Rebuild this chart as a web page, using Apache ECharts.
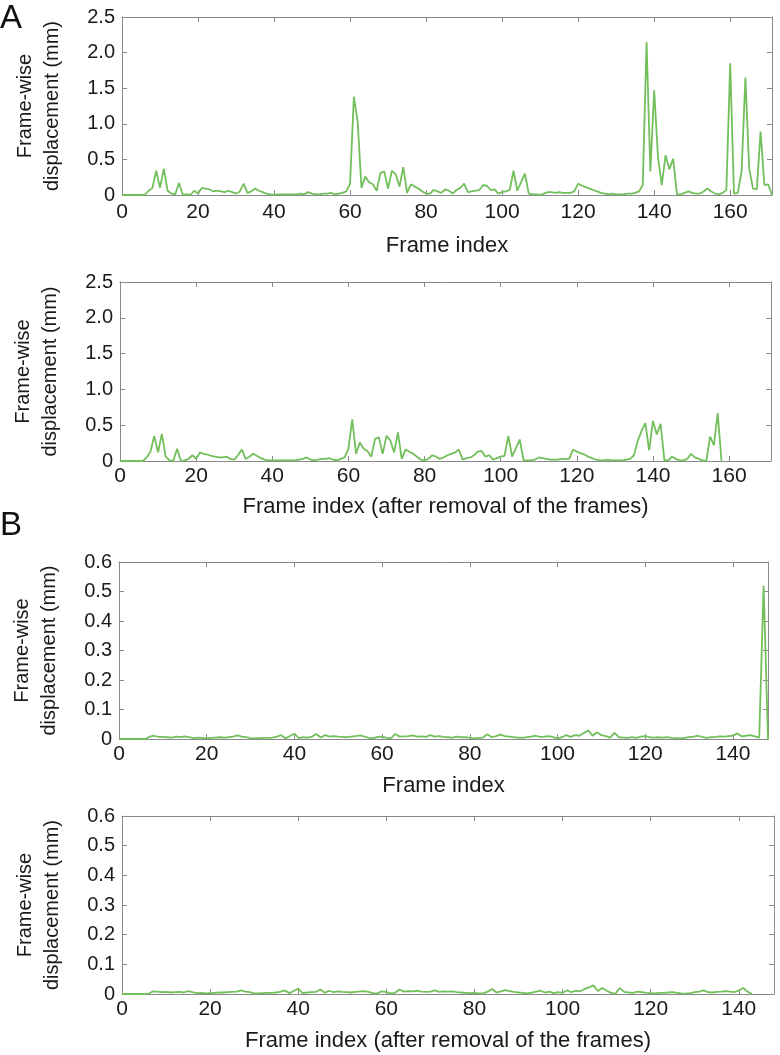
<!DOCTYPE html>
<html>
<head>
	<meta charset="utf-8">
	<title>Frame-wise displacement</title>
	<style>
		body { margin: 0; background: #fff; }
		#box { width: 780px; height: 1055px; }
	</style>
</head>
<body>
	<div id="box"></div>
	<script src="https://cdn.jsdelivr.net/npm/echarts@6.0.0/dist/echarts.min.js"></script>
	<script>
	// frame-wise displacement (mm), one value per frame, frame index = array position
	var fdA1 = [0, 0, 0, 0, 0, 0, 0, 0.06, 0.1, 0.34, 0.1, 0.37, 0.06, 0.02, 0.01, 0.17, 0, 0.01, 0, 0.06,
		0.02, 0.1, 0.09, 0.08, 0.05, 0.06, 0.05, 0.04, 0.06, 0.04, 0.02, 0.05, 0.16, 0.03, 0.05, 0.09, 0.06, 0.04, 0.02, 0.01,
		0, 0.01, 0.01, 0.01, 0.01, 0.01, 0.01, 0.02, 0.01, 0.04, 0.02, 0.01, 0.01, 0.02, 0.02, 0.03, 0.01, 0.02, 0.03, 0.05,
		0.16, 1.38, 1.03, 0.1, 0.26, 0.18, 0.15, 0.06, 0.31, 0.33, 0.09, 0.34, 0.29, 0.12, 0.39, 0.03, 0.15, 0.12, 0.09, 0.05,
		0.02, 0.02, 0.07, 0.05, 0.03, 0.08, 0.06, 0.02, 0.07, 0.1, 0.16, 0.04, 0.05, 0.06, 0.07, 0.14, 0.13, 0.07, 0.08, 0.02,
		0.04, 0.05, 0.07, 0.34, 0.06, 0.18, 0.3, 0.02, 0.01, 0.01, 0, 0.02, 0.04, 0.04, 0.03, 0.04, 0.03, 0.03, 0.03, 0.05,
		0.16, 0.13, 0.11, 0.09, 0.07, 0.05, 0.03, 0.02, 0.01, 0.02, 0.01, 0.01, 0.01, 0.02, 0.02, 0.03, 0.05, 0.14, 2.15, 0.33,
		1.47, 0.54, 0.14, 0.56, 0.36, 0.51, 0.01, 0.01, 0.03, 0.05, 0.03, 0.02, 0.02, 0.05, 0.09, 0.05, 0.02, 0.01, 0.03, 0.07,
		1.85, 0.02, 0.03, 0.33, 1.65, 0.37, 0.09, 0.08, 0.89, 0.14, 0.15, 0];
	var fdA2 = [0, 0, 0, 0, 0, 0, 0, 0.05, 0.13, 0.35, 0.12, 0.38, 0.06, 0.01, 0, 0.17, 0, 0.01, 0.03, 0.08,
		0.03, 0.12, 0.1, 0.09, 0.07, 0.06, 0.05, 0.05, 0.06, 0.03, 0.02, 0.08, 0.16, 0.03, 0.06, 0.1, 0.07, 0.04, 0.02, 0.01,
		0.01, 0.01, 0.01, 0.01, 0.01, 0.01, 0.01, 0.02, 0.03, 0.05, 0.02, 0.01, 0.02, 0.03, 0.03, 0.04, 0.02, 0.01, 0.03, 0.05,
		0.17, 0.58, 0.1, 0.26, 0.17, 0.14, 0.06, 0.31, 0.33, 0.1, 0.35, 0.29, 0.12, 0.4, 0.03, 0.16, 0.13, 0.1, 0.06, 0.02,
		0.01, 0.03, 0.08, 0.06, 0.03, 0.05, 0.08, 0.1, 0.12, 0.16, 0.02, 0.04, 0.05, 0.08, 0.13, 0.14, 0.06, 0.08, 0.02, 0.04,
		0.06, 0.07, 0.35, 0.06, 0.18, 0.3, 0.01, 0.01, 0.01, 0.02, 0.05, 0.04, 0.03, 0.02, 0.02, 0.02, 0.03, 0.03, 0.03, 0.16,
		0.13, 0.11, 0.09, 0.06, 0.04, 0.02, 0.01, 0.01, 0.02, 0.01, 0.01, 0.01, 0.01, 0.02, 0.03, 0.08, 0.28, 0.42, 0.53, 0.15,
		0.56, 0.37, 0.52, 0.01, 0.01, 0.06, 0.03, 0.01, 0.01, 0.03, 0.1, 0.05, 0.03, 0.01, 0, 0.34, 0.22, 0.67, 0];
	var fdB1 = [0, 0, 0, 0, 0, 0, 0, 0.008, 0.011, 0.007, 0.007, 0.006, 0.005, 0.008, 0.006, 0.009, 0.006, 0.003, 0.005, 0.004,
		0.002, 0.004, 0.005, 0.006, 0.005, 0.006, 0.008, 0.012, 0.008, 0.006, 0.003, 0.002, 0.003, 0.004, 0.004, 0.005, 0.008, 0.013, 0.002, 0.01,
		0.018, 0.003, 0.006, 0.005, 0.008, 0.017, 0.005, 0.013, 0.008, 0.01, 0.008, 0.007, 0.006, 0.008, 0.01, 0.012, 0.008, 0.004, 0.003, 0.007,
		0.008, 0.004, 0.002, 0.017, 0.008, 0.009, 0.01, 0.012, 0.008, 0.009, 0.007, 0.013, 0.008, 0.01, 0.007, 0.006, 0.005, 0.008, 0.006, 0.006,
		0.004, 0.002, 0.004, 0.005, 0.016, 0.006, 0.01, 0.015, 0.01, 0.008, 0.006, 0.005, 0.004, 0.006, 0.008, 0.011, 0.007, 0.008, 0.01, 0.006,
		0.002, 0.006, 0.013, 0.007, 0.013, 0.011, 0.02, 0.029, 0.011, 0.023, 0.013, 0.01, 0.005, 0.021, 0.006, 0.005, 0.004, 0.006, 0.004, 0.008,
		0.01, 0.006, 0.005, 0.006, 0.005, 0.006, 0.004, 0.003, 0.002, 0.004, 0.006, 0.008, 0.011, 0.007, 0.004, 0.006, 0.007, 0.009, 0.008, 0.01,
		0.011, 0.019, 0.009, 0.011, 0.013, 0.009, 0.005, 0.52, 0];
	var fdB2 = [0, 0, 0, 0, 0, 0, 0, 0.009, 0.008, 0.006, 0.007, 0.005, 0.006, 0.007, 0.005, 0.01, 0.006, 0.003, 0.004, 0.002,
		0.003, 0.004, 0.005, 0.005, 0.006, 0.007, 0.008, 0.012, 0.008, 0.006, 0.002, 0.002, 0.003, 0.004, 0.004, 0.005, 0.008, 0.012, 0.003, 0.01,
		0.018, 0.003, 0.005, 0.006, 0.007, 0.015, 0.004, 0.011, 0.006, 0.009, 0.007, 0.006, 0.005, 0.007, 0.009, 0.01, 0.007, 0.002, 0.003, 0.009,
		0.006, 0.002, 0.004, 0.015, 0.008, 0.01, 0.009, 0.011, 0.008, 0.007, 0.008, 0.012, 0.007, 0.009, 0.008, 0.009, 0.006, 0.005, 0.004, 0.003,
		0.004, 0.002, 0.002, 0.008, 0.017, 0.005, 0.009, 0.013, 0.01, 0.007, 0.005, 0.004, 0.002, 0.005, 0.008, 0.011, 0.005, 0.008, 0.003, 0.006,
		0.004, 0.012, 0.006, 0.011, 0.009, 0.017, 0.022, 0.029, 0.01, 0.02, 0.011, 0.004, 0.001, 0.02, 0.007, 0.005, 0.004, 0.008, 0.006, 0.004,
		0.003, 0.002, 0.004, 0.004, 0.005, 0.006, 0.004, 0.002, 0.001, 0.003, 0.006, 0.008, 0.012, 0.006, 0.005, 0.007, 0.008, 0.01, 0.008, 0.006,
		0.012, 0.02, 0.008, 0];

	var xNameRaw = 'Frame index';
	var xNameClean = 'Frame index (after removal of the frames)';
	var yName = 'Frame-wise\ndisplacement (mm)';
	var panelLetters = ['A', 'B'];

	var font = '"Liberation Sans", Arial, Helvetica, sans-serif';
	var axisColor = '#8a8a8a';
	var lineColor = '#72bf5c';

	// one entry per subplot
	var panels = [
		{data: fdA1, xMax: 171, yMax: 2.5, yStep: 0.5, xName: xNameRaw, grid: {left: 122, top: 17, right: 8, height: 178}, nameGap: 40, labelGap: 7},
		{data: fdA2, xMax: 171, yMax: 2.5, yStep: 0.5, xName: xNameClean, grid: {left: 120, top: 282, right: 9, height: 179}, nameGap: 35, labelGap: 5},
		{data: fdB1, xMax: 148, yMax: 0.6, yStep: 0.1, xName: xNameRaw, grid: {left: 119, top: 562, right: 12, height: 177}, nameGap: 36, labelGap: 5},
		{data: fdB2, xMax: 148, yMax: 0.6, yStep: 0.1, xName: xNameClean, grid: {left: 122, top: 816, right: 6, height: 178}, nameGap: 36, labelGap: 5}
	];

	var grids = [], xAxes = [], yAxes = [], series = [];

	panels.forEach(function (p, k) {
		grids.push(p.grid);
		// bottom axis with labels, then a bare mirror on top
		xAxes.push({
			type: 'value', gridIndex: k, position: 'bottom', min: 0, max: p.xMax, interval: 20,
			name: p.xName, nameLocation: 'middle', nameGap: p.nameGap,
			nameTextStyle: {fontFamily: font, fontSize: 22, color: '#1a1a1a'},
			axisLine: {show: true, onZero: false, lineStyle: {color: axisColor, width: 1}},
			axisTick: {show: true, inside: true, length: 5, lineStyle: {color: axisColor}},
			axisLabel: {fontFamily: font, fontSize: 21, color: '#1a1a1a', margin: p.labelGap, showMaxLabel: false},
			splitLine: {show: false}
		});
		xAxes.push({
			type: 'value', gridIndex: k, position: 'top', min: 0, max: p.xMax, interval: 20,
			axisLine: {show: true, onZero: false, lineStyle: {color: axisColor, width: 1}},
			axisTick: {show: true, inside: true, length: 5, lineStyle: {color: axisColor}},
			axisLabel: {show: false},
			splitLine: {show: false}
		});
		yAxes.push({
			type: 'value', gridIndex: k, position: 'left', min: 0, max: p.yMax, interval: p.yStep,
			name: yName, nameLocation: 'middle', nameGap: 56,
			nameTextStyle: {fontFamily: font, fontSize: 20, lineHeight: 27, color: '#1a1a1a', align: 'center'},
			axisLine: {show: true, onZero: false, lineStyle: {color: axisColor, width: 1}},
			axisTick: {show: true, inside: true, length: 5, lineStyle: {color: axisColor}},
			axisLabel: {
				fontFamily: font, fontSize: 20, color: '#1a1a1a', margin: 7,
				formatter: function (v) { return v === 0 ? '0' : v.toFixed(1); }
			},
			splitLine: {show: false}
		});
		yAxes.push({
			type: 'value', gridIndex: k, position: 'right', min: 0, max: p.yMax, interval: p.yStep,
			axisLine: {show: true, onZero: false, lineStyle: {color: axisColor, width: 1}},
			axisTick: {show: true, inside: true, length: 5, lineStyle: {color: axisColor}},
			axisLabel: {show: false},
			splitLine: {show: false}
		});
		series.push({
			type: 'line',
			xAxisIndex: 2 * k,
			yAxisIndex: 2 * k,
			showSymbol: false,
			symbol: 'none',
			lineStyle: {color: lineColor, width: 1.8},
			data: p.data.map(function (v, i) { return [i, v]; })
		});
	});

	var myChart = echarts.init(document.getElementById('box'), null, {renderer: 'canvas'});
	myChart.setOption({
		animation: false,
		backgroundColor: '#ffffff',
		grid: grids,
		xAxis: xAxes,
		yAxis: yAxes,
		series: series,
		graphic: [
			{type: 'text', left: 0, top: 2, style: {text: panelLetters[0], fontFamily: font, fontSize: 33, fill: '#111'}},
			{type: 'text', left: 0, top: 509, style: {text: panelLetters[1], fontFamily: font, fontSize: 33, fill: '#111'}}
		]
	});
	</script>
</body>
</html>
